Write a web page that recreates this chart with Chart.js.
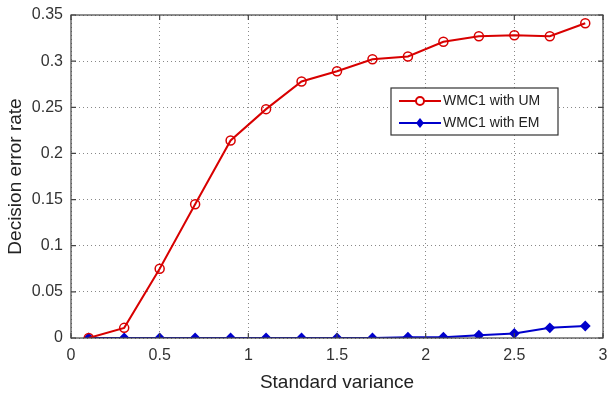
<!DOCTYPE html>
<html>
<head>
<meta charset="utf-8">
<script src="https://cdn.jsdelivr.net/npm/chart.js@4/dist/chart.umd.min.js"></script>
<style>
  html, body { margin: 0; padding: 0; background: #fff; }
  #wrap { width: 609px; height: 398px; position: relative; }
</style>
</head>
<body>
<div id="wrap"><canvas id="errChart"></canvas></div>
<script>
var xValues = [0.1, 0.3, 0.5, 0.7, 0.9, 1.1, 1.3, 1.5, 1.7, 1.9, 2.1, 2.3, 2.5, 2.7, 2.9]
var umValues = [0, 0.011, 0.075, 0.145, 0.214, 0.248, 0.278, 0.289, 0.302, 0.305, 0.321, 0.327, 0.328, 0.327, 0.341]
var emValues = [0, 0, 0, 0, 0, 0, 0, 0, 0, 0.0008, 0.0008, 0.003, 0.005, 0.011, 0.013]
var xTicks = [0, 0.5, 1, 1.5, 2, 2.5, 3]
var yTicks = [0, 0.05, 0.1, 0.15, 0.2, 0.25, 0.3, 0.35]
var seriesNames = ['WMC1 with UM', 'WMC1 with EM']

var fontFam = '"Liberation Sans", Arial, sans-serif'

function toPoints(vals) {
    return vals.map(function (v, i) { return { x: xValues[i], y: v } })
}

// matlab style frame + inward ticks
var framePlugin = {
    id: 'frame',
    afterDraw: function (chart) {
        var c = chart.ctx, a = chart.chartArea
        var xs = chart.scales.x, ys = chart.scales.y
        c.save()
        c.strokeStyle = '#444'
        c.lineWidth = 1.2
        c.strokeRect(a.left, a.top, a.right - a.left, a.bottom - a.top)
        c.beginPath()
        xTicks.forEach(function (t) {
            var px = xs.getPixelForValue(t)
            c.moveTo(px, a.bottom); c.lineTo(px, a.bottom - 5)
            c.moveTo(px, a.top); c.lineTo(px, a.top + 5)
        })
        yTicks.forEach(function (t) {
            var py = ys.getPixelForValue(t)
            c.moveTo(a.left, py); c.lineTo(a.left + 5, py)
            c.moveTo(a.right, py); c.lineTo(a.right - 5, py)
        })
        c.stroke()
        c.restore()
    }
}

// legend box inside plot area
var boxLegend = {
    id: 'boxLegend',
    afterDraw: function (chart) {
        var c = chart.ctx
        var left = 391, top = 88, w = 167, h = 47
        c.save()
        c.fillStyle = '#fff'
        c.fillRect(left, top, w, h)
        c.strokeStyle = '#333'
        c.lineWidth = 1.2
        c.strokeRect(left, top, w, h)
        c.font = '14px ' + fontFam
        c.textBaseline = 'middle'
        chart.data.datasets.forEach(function (ds, i) {
            var y = top + 13 + i * 22
            c.strokeStyle = ds.borderColor
            c.lineWidth = 2
            c.beginPath(); c.moveTo(left + 8, y); c.lineTo(left + 50, y); c.stroke()
            var mx = left + 29
            c.beginPath()
            if (i === 0) {
                c.arc(mx, y, 4, 0, Math.PI * 2)
                c.fillStyle = '#fff'; c.fill(); c.stroke()
            } else {
                c.moveTo(mx, y - 5); c.lineTo(mx + 4, y); c.lineTo(mx, y + 5); c.lineTo(mx - 4, y); c.closePath()
                c.fillStyle = ds.borderColor; c.fill()
            }
            c.fillStyle = '#222'
            c.fillText(ds.label, left + 52, y)
        })
        c.restore()
    }
}

var ctx = document.getElementById('errChart')
var chart = new Chart(ctx, {
    type: 'line',
    data: {
        datasets: [{
            label: seriesNames[0],
            data: toPoints(umValues),
            borderColor: '#d80000',
            backgroundColor: '#ffffff',
            borderWidth: 2,
            pointStyle: 'circle',
            pointRadius: 4.5,
            pointBorderWidth: 1.5,
            pointBackgroundColor: 'rgba(255,255,255,0)',
            pointBorderColor: '#d80000',
            tension: 0
        }, {
            label: seriesNames[1],
            data: toPoints(emValues),
            borderColor: '#0000cc',
            backgroundColor: '#0000cc',
            borderWidth: 2,
            pointStyle: 'rectRot',
            pointRadius: 4,
            pointBackgroundColor: '#0000cc',
            pointBorderColor: '#0000cc',
            tension: 0
        }]
    },
    options: {
        responsive: true,
        maintainAspectRatio: false,
        animation: false,
        layout: { padding: { top: 15, right: -2, left: 0, bottom: 0 } },
        plugins: { legend: { display: false }, tooltip: { enabled: false } },
        scales: {
            x: {
                type: 'linear',
                min: 0, max: 3,
                afterBuildTicks: function (s) { s.ticks = xTicks.map(function (v) { return { value: v } }) },
                afterFit: function (s) { s.height = 60; s.paddingRight = 0; s.paddingLeft = 0 },
                grid: { color: '#888', lineWidth: 1, drawTicks: false, tickLength: 0 },
                border: { display: false, dash: [1, 3] },
                ticks: {
                    color: '#333', padding: 8, maxRotation: 0,
                    font: { size: 16, family: fontFam },
                    callback: function (v) { return String(v) }
                },
                title: { display: true, text: 'Standard variance', color: '#222', padding: { top: 2 }, font: { size: 19, family: fontFam } }
            },
            y: {
                min: 0, max: 0.35,
                afterBuildTicks: function (s) { s.ticks = yTicks.map(function (v) { return { value: v } }) },
                afterFit: function (s) { s.width = 71; s.paddingTop = 0; s.paddingBottom = 0 },
                grid: { color: '#888', lineWidth: 1, drawTicks: false, tickLength: 0 },
                border: { display: false, dash: [1, 3] },
                ticks: {
                    color: '#333', padding: 8,
                    font: { size: 16, family: fontFam },
                    callback: function (v) { return String(v) }
                },
                title: { display: true, text: 'Decision error rate', color: '#222', padding: { bottom: 4 }, font: { size: 19, family: fontFam } }
            }
        }
    },
    plugins: [framePlugin, boxLegend]
})
</script>
</body>
</html>
